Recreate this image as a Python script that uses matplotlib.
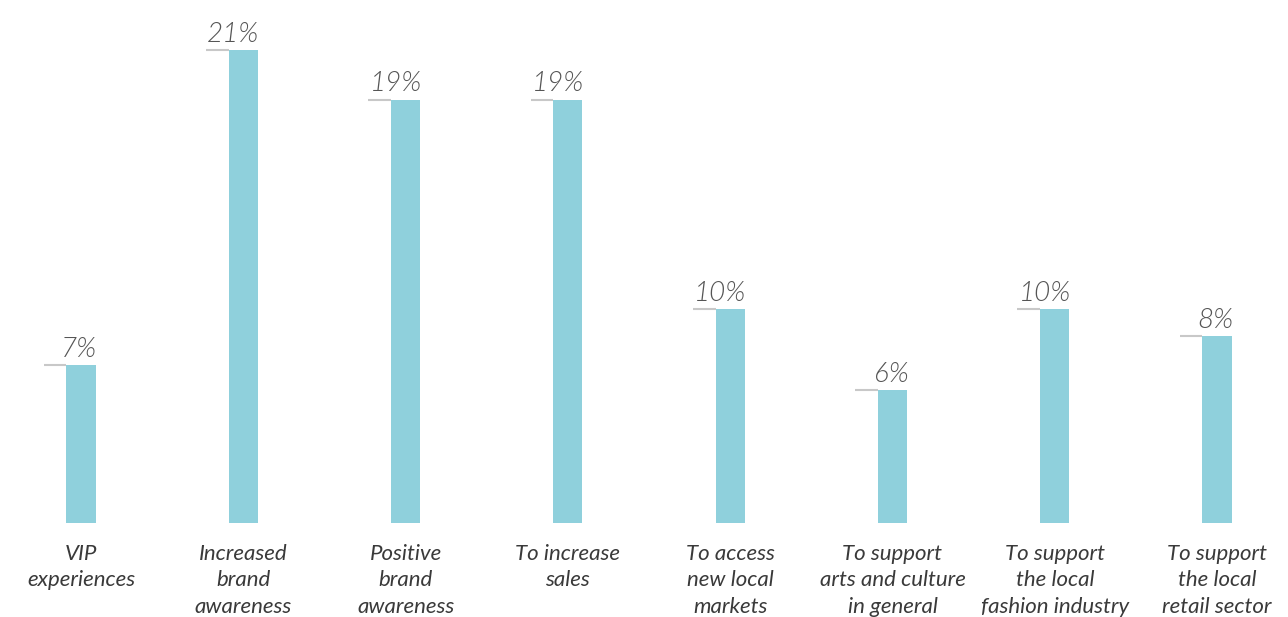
import matplotlib
matplotlib.use("Agg")
import matplotlib.pyplot as plt

categories = ["VIP\nexperiences", "Increased\nbrand\nawareness", "Positive\nbrand\nawareness",
              "To increase\nsales", "To access\nnew local\nmarkets", "To support\narts and culture\nin general",
              "To support\nthe local\nfashion industry", "To support\nthe local\nretail sector"]
values = [7.0, 21.0, 18.8, 18.8, 9.5, 5.9, 9.5, 8.3]
value_labels = ["7%", "21%", "19%", "19%", "10%", "6%", "10%", "8%"]

plt.rcParams['font.family'] = ['Lato', 'DejaVu Sans']

fig = plt.figure(figsize=(12.88, 6.17), dpi=100)
ax = fig.add_axes([0, 0.1524, 1, 0.8476])
x = list(range(len(values)))
w = 0.18
ax.bar(x, values, width=w, color="#8fd0dc", zorder=2)
for xi, v, lab in zip(x, values, value_labels):
    ax.plot([xi - w / 2 - 0.14, xi - w / 2], [v, v], color="#c8c8c8", lw=1.5, zorder=1,
            solid_capstyle='butt')
    ax.text(xi + w / 2 + 0.01, v + 0.15, lab, ha='right', va='bottom', fontsize=20,
            style='italic', fontweight=300, color='#555555')
ax.set_xlim(-0.499, 7.437)
ax.set_ylim(0, 23.22)
ax.set_xticks(x)
ax.set_xticklabels(categories, fontsize=16, style='italic', color='#3a3a3a', linespacing=1.4)
ax.tick_params(axis='x', length=0, pad=15)
ax.set_yticks([])
for s in ax.spines.values():
    s.set_visible(False)
fig.savefig("out.png", dpi=100, facecolor='white')
